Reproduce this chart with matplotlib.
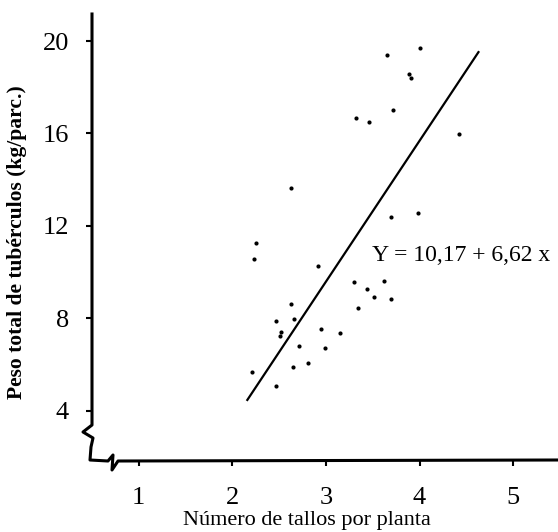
import numpy as np
import matplotlib.pyplot as plt

# Datos
tallos = [3.65, 4.00, 3.89, 3.91, 3.72, 3.32, 3.46, 4.42, 2.63, 3.69, 3.98,
          2.25, 2.23, 2.92, 3.30, 3.62, 3.44, 3.51, 3.70, 3.34, 2.63, 2.47,
          2.66, 2.51, 2.52, 2.95, 3.15, 2.71, 2.99, 2.21, 2.65, 2.81, 2.47]
peso = [19.39, 19.68, 18.56, 18.38, 17.01, 16.67, 16.49, 15.97, 13.62, 12.40, 12.54,
        11.24, 10.55, 10.27, 9.58, 9.62, 9.26, 8.93, 8.84, 8.43, 8.61, 7.89,
        7.98, 7.25, 7.40, 7.55, 7.36, 6.80, 6.71, 5.68, 5.90, 6.05, 5.06]

# recta de regresión dibujada
recta_x = [2.16, 4.63]
recta_y = [4.46, 19.52]

xticks = [1, 2, 3, 4, 5]
yticks = [4, 8, 12, 16, 20]

plt.rcParams['font.family'] = ['Liberation Serif', 'DejaVu Serif']

fig = plt.figure(figsize=(5.58, 5.32), dpi=100)
W, H = 558, 532
ax_l, ax_r, ax_b, ax_t = 92, 558, 460, 14
ax = fig.add_axes([ax_l / W, (H - ax_b) / H, (ax_r - ax_l) / W, (ax_b - ax_t) / H])

ax.set_xlim(0.5, 5.48)
ax.set_ylim(1.86, 21.17)

ax.scatter(tallos, peso, s=9, color='black', linewidths=0)
ax.plot(recta_x, recta_y, color='black', lw=1.6)

ax.text(3.49, 10.72, 'Y = 10,17 + 6,62 x', fontsize=17, va='center', ha='left')

# ejes con cortes dibujados a mano
for s in ax.spines.values():
    s.set_visible(False)

def frac(px, py):
    return (px - ax_l) / (ax_r - ax_l), (ax_b - py) / (ax_b - ax_t)

path = [(92, 14), (92, 425), (83, 432), (93, 438), (91, 447), (90, 460),
        (108, 461), (113, 455), (112, 470), (118, 461), (558, 460)]
fx, fy = zip(*[frac(px, py) for px, py in path])
ax.plot(fx, fy, transform=ax.transAxes, color='black', lw=2.2, clip_on=False,
        solid_joinstyle='round')

ax.set_xticks(xticks)
ax.set_yticks(yticks)
ax.tick_params(axis='x', direction='out', length=4.5, width=1.5, pad=15, labelsize=19)
ax.tick_params(axis='y', direction='out', length=4.5, width=1.5, pad=12, labelsize=19)

fig.text(307 / W, (H - 520) / H, 'Número de tallos por planta', fontsize=16,
         ha='center', va='center')
fig.text(17 / W, (H - 242) / H, 'Peso total de tubérculos (kg/parc.)', fontsize=15.5,
         fontweight='bold', rotation=90, ha='center', va='center')

fig.savefig('out.png', dpi=100)
